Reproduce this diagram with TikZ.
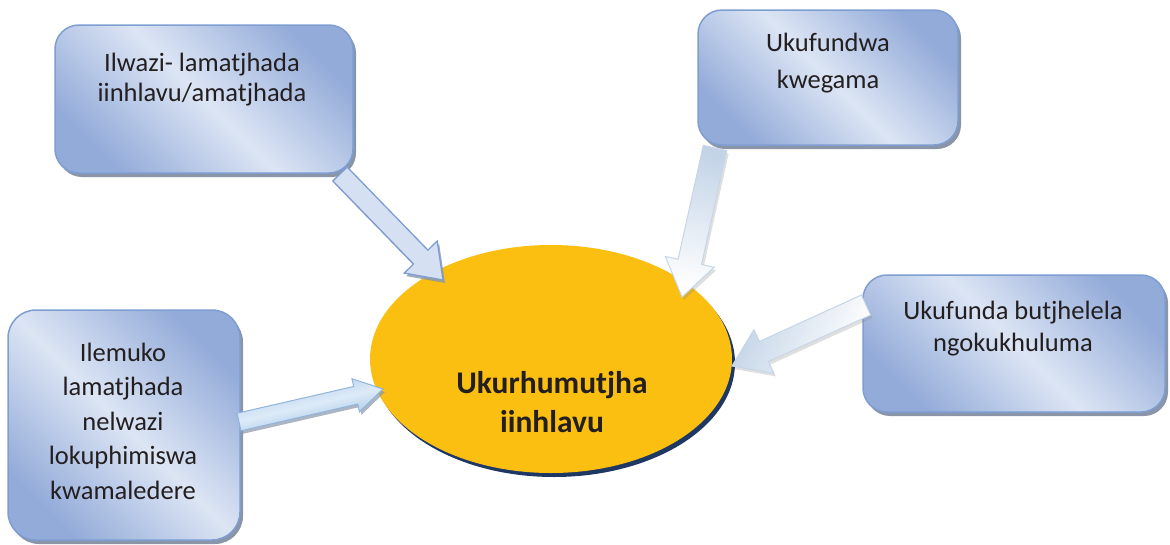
\documentclass[tikz,border=0pt]{standalone}
\usepackage{fontspec}
\setmainfont{Carlito}
\usetikzlibrary{calc,shadows,shapes.geometric}
\definecolor{boxdark}{HTML}{93ABD9}
\definecolor{boxlight}{HTML}{DCE5F4}
\definecolor{boxedge}{HTML}{7E9ED2}
\definecolor{boxshadow}{HTML}{8A95A8}
\definecolor{sun}{HTML}{FBBF12}
\definecolor{navy}{HTML}{1F3763}
\definecolor{txt}{HTML}{231F20}
\definecolor{arrfill}{HTML}{D5E0F2}
\definecolor{palearr}{HTML}{C3D4E7}
\definecolor{paleedge}{HTML}{C6D6E8}
\definecolor{bluearr}{HTML}{8FB5DD}
\definecolor{bluelight}{HTML}{DDEBF8}
\newcommand\blockarr[6]{%
  \coordinate (#2B) at ($(#3)!#6!(#2)$);
  \path[#1] ($(#2)!#4!90:(#3)$) -- ($(#2B)!#4!-90:(#2)$) -- ($(#2B)!#5!-90:(#2)$)
    -- (#3) -- ($(#2B)!#5!90:(#2)$) -- ($(#2B)!#4!90:(#2)$) -- ($(#2)!#4!-90:(#3)$) -- cycle;
}
\tikzset{
  infobox/.style={draw=boxedge, line width=1.5pt, rounded corners=24pt,
    top color=boxdark, bottom color=boxdark, middle color=boxlight, shading angle=-45,
    drop shadow={shadow xshift=3pt, shadow yshift=-4pt, fill=boxshadow, opacity=1},
    inner sep=0pt},
  boxtext/.style={align=center, text=txt, inner sep=0pt},
  arrowA/.style={draw=boxedge, line width=1.3pt, fill=arrfill, line join=miter,
    drop shadow={shadow xshift=2pt, shadow yshift=-3pt, fill=boxshadow, opacity=0.8}},
  arrowB/.style={draw=paleedge, line width=1pt, left color=palearr, right color=white,
    shading angle=#1, line join=miter,
    drop shadow={shadow xshift=2pt, shadow yshift=-3pt, fill=gray, opacity=0.25}},
  arrowC/.style={draw=bluearr, line width=1pt, top color=bluearr!80, bottom color=bluearr,
    middle color=bluelight, shading angle=13, line join=miter,
    drop shadow={shadow xshift=2pt, shadow yshift=-3pt, fill=boxshadow, opacity=0.7}},
}
\begin{document}
\begin{tikzpicture}[x=1pt,y=-1pt]
\useasboundingbox (0,0) rectangle (1170,544);
% central ellipse
\node[ellipse, fill=sun, minimum width=362pt, minimum height=228pt, inner sep=0pt,
  drop shadow={shadow xshift=3pt, shadow yshift=-4pt, fill=navy, opacity=1}] (e) at (551,359) {};
\node[boxtext, font=\fontsize{31.5}{39}\selectfont\bfseries] (et) at (552,402) {Ukurhumutjha\\iinhlavu};
% boxes
\node[infobox, minimum width=298pt, minimum height=148pt] (b1) at (204,99) {};
\node[boxtext, font=\fontsize{26.5}{30}\selectfont] (t1) at (202,80) {Ilwazi- lamatjhada\\iinhlavu/amatjhada};
\node[infobox, minimum width=260pt, minimum height=135pt] (b2) at (828,77.5) {};
\node[boxtext, font=\fontsize{26.5}{37}\selectfont] (t2) at (828,63) {Ukufundwa\\kwegama};
\node[infobox, minimum width=302pt, minimum height=137pt] (b3) at (1014,343.5) {};
\node[boxtext, font=\fontsize{26.5}{32}\selectfont] (t3) at (1013,329) {Ukufunda butjhelela\\ngokukhuluma};
\node[infobox, minimum width=232pt, minimum height=230pt, rounded corners=28pt] (b4) at (124,425) {};
\node[boxtext, font=\fontsize{26.5}{34.5}\selectfont] (t4) at (123,421) {Ilemuko\\lamatjhada\\nelwazi\\lokuphimiswa\\kwamaledere};
% arrow end points
\coordinate (s1) at (340,174);
\coordinate (e1) at (443,280);
\coordinate (s2) at (715,148);
\coordinate (e2) at (682,297);
\coordinate (s3) at (866,305);
\coordinate (e3) at (732,366);
\coordinate (s4) at (239,422);
\coordinate (e4) at (383,389);
\blockarr{arrowA}{s1}{e1}{10pt}{23pt}{32pt}
\blockarr{arrowB=-12}{s2}{e2}{12pt}{25pt}{36pt}
\blockarr{arrowB=66}{s3}{e3}{11pt}{24pt}{35pt}
\blockarr{arrowC}{s4}{e4}{9pt}{17pt}{28pt}
\end{tikzpicture}
\end{document}
